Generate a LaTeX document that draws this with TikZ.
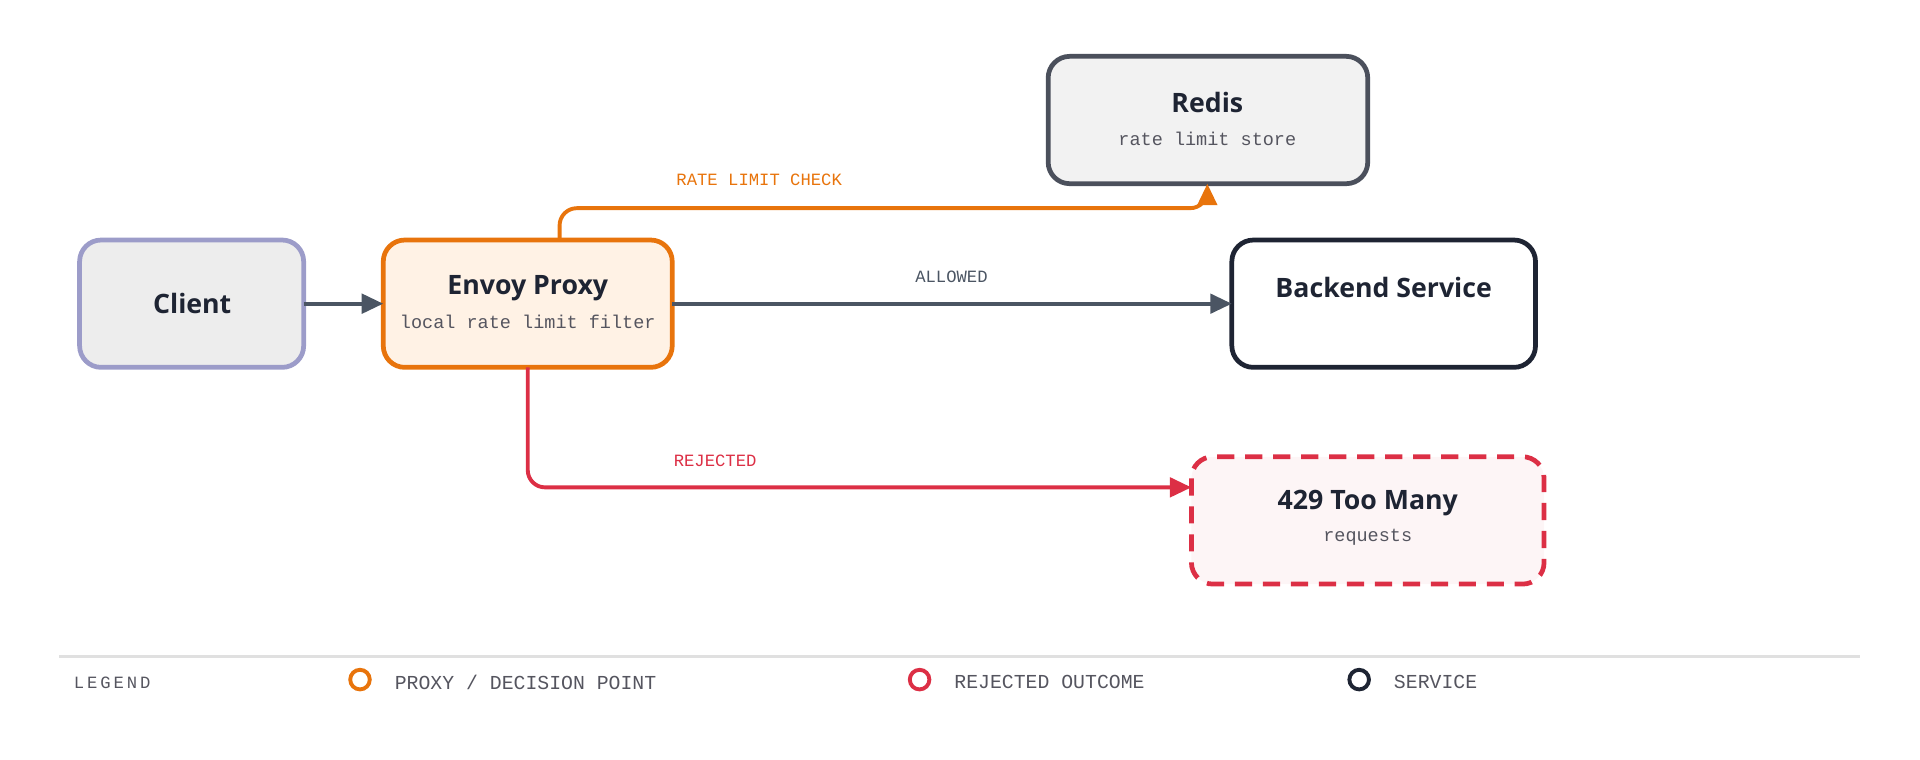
\documentclass[tikz,border=0pt]{standalone}
\usepackage{fontspec}
\setmainfont{Open Sans}
\setmonofont{Liberation Mono}
\usetikzlibrary{arrows.meta}
\definecolor{ink}{HTML}{1E2433}
\definecolor{wire}{HTML}{4B5563}
\definecolor{proxy}{HTML}{E8740C}
\definecolor{reject}{HTML}{DC2F45}
\definecolor{muted}{HTML}{55555F}
\tikzset{
  box/.style={draw, rounded corners=5, line width=1.1pt},
  title/.style={font=\fontsize{6.2}{7}\selectfont\bfseries, text=ink},
  sub/.style={font=\fontsize{4.3}{5}\ttfamily, text=muted},
  lab/.style={font=\fontsize{4}{5}\ttfamily},
  link/.style={line width=0.9pt, rounded corners=4, -{Triangle[length=5pt,width=4.5pt]}}
}
\begin{document}
\begin{tikzpicture}[x=0.01cm,y=-0.01cm]
    \useasboundingbox (0,0) rectangle (1568,620);
    % boxes
    \draw[box, draw=gray!70!blue!60, fill=black!7] (65,196) rectangle (248,300);
    \draw[box, draw=proxy, fill=orange!10] (313,196) rectangle (549,300);
    \draw[box, draw=ink!80, fill=black!5] (856,46) rectangle (1117,150);
    \draw[box, draw=ink, fill=white] (1006,196) rectangle (1254,300);
    \draw[box, draw=reject, fill=reject!5, dashed, dash pattern=on 4pt off 2.5pt] (973,373) rectangle (1261,477);
    % texts
    \node[title] (client) at (157,248) {Client};
    \node[title] (envoy) at (431,235) {Envoy Proxy};
    \node[sub] (envoysub) at (431,263) {local rate limit filter};
    \node[title] (redis) at (986,84) {Redis};
    \node[sub] (redissub) at (986,113) {rate limit store};
    \node[title] (backend) at (1130,235) {Backend Service};
    \node[title] (toomany) at (1117,411) {429 Too Many};
    \node[sub] (toomanysub) at (1117,439) {requests};
    % anchors
    \coordinate (clientE) at (248,248);
    \coordinate (envoyW) at (313,248);
    \coordinate (envoyE) at (549,248);
    \coordinate (envoyN) at (457,196);
    \coordinate (envoyS) at (431,300);
    \coordinate (redisS) at (986,150);
    \coordinate (backendW) at (1006,248);
    \coordinate (toomanyW) at (973,398);
    % connectors
    \draw[link, wire] (clientE) -- (envoyW);
    \draw[link, wire] (envoyE) -- (backendW);
    \draw[link, proxy] (envoyN) |- (722,170) -| (redisS);
    \draw[link, reject] (envoyS) |- (toomanyW);
    \node[lab, text=wire] (allowed) at (777,226) {ALLOWED};
    \node[lab, text=proxy] (check) at (620,147) {RATE LIMIT CHECK};
    \node[lab, text=reject] (rejected) at (584,376) {REJECTED};
    % legend
    \draw[black!12, line width=0.6pt] (48,536) -- (1519,536);
    \node[lab, text=muted, anchor=west] (legend) at (48,558) {L\,E\,G\,E\,N\,D};
    \draw[proxy, line width=0.9pt] (294,555) circle (8);
    \node[lab, text=muted, anchor=west, font=\fontsize{4.6}{5}\ttfamily] (lproxy) at (310,557) {PROXY / DECISION POINT};
    \draw[reject, line width=0.9pt] (751,555) circle (8);
    \node[lab, text=muted, anchor=west, font=\fontsize{4.6}{5}\ttfamily] (lreject) at (767,557) {REJECTED OUTCOME};
    \draw[ink, line width=0.9pt] (1110,555) circle (8);
    \node[lab, text=muted, anchor=west, font=\fontsize{4.6}{5}\ttfamily] (lservice) at (1126,557) {SERVICE};
\end{tikzpicture}
\end{document}
